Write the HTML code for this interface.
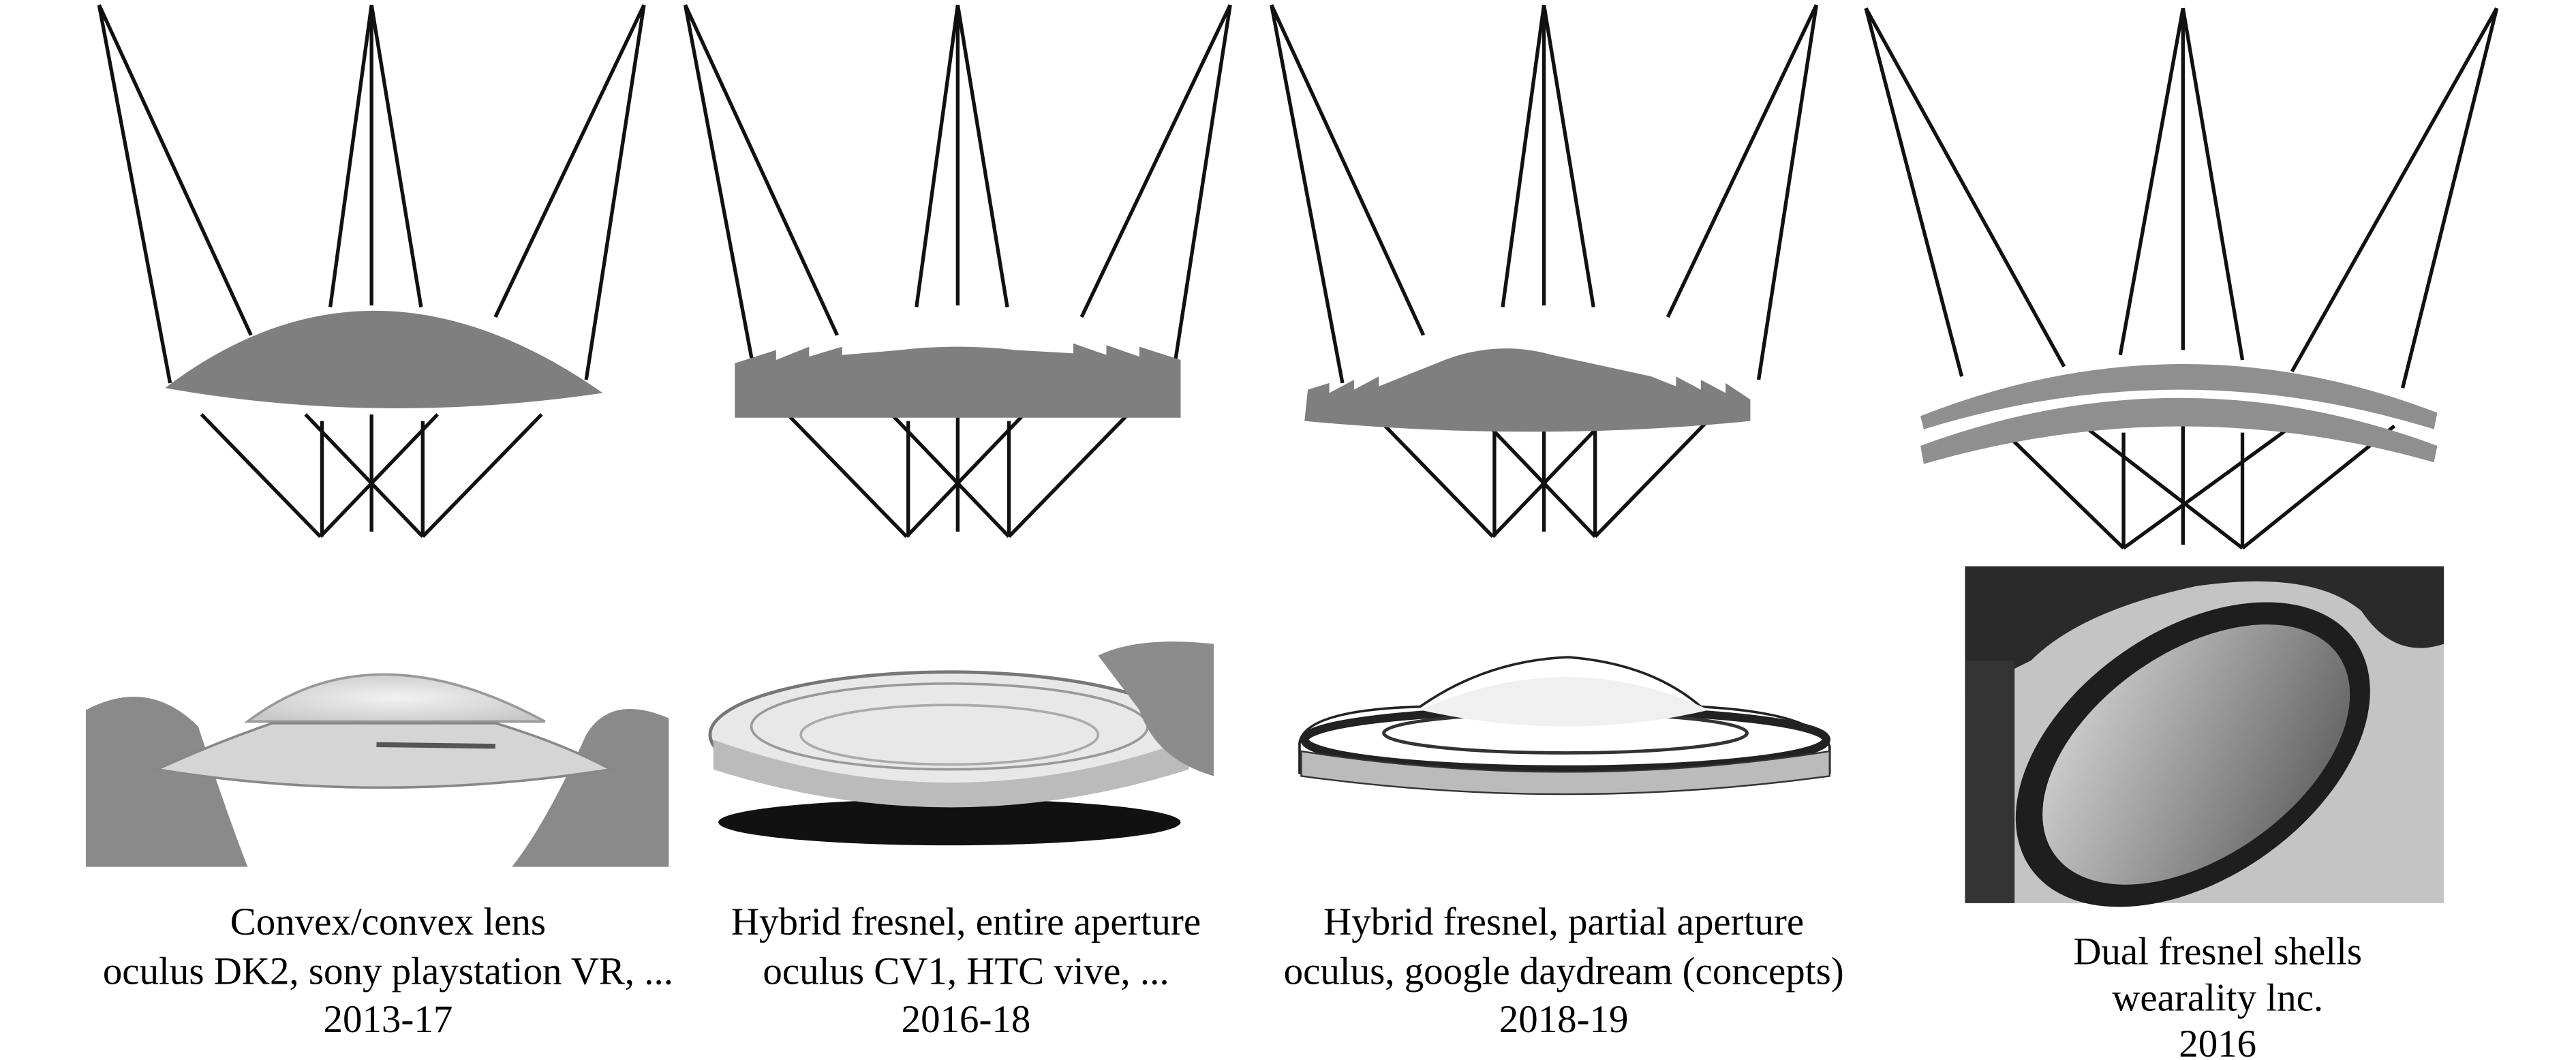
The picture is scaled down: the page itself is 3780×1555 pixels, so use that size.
<!DOCTYPE html>
<html><head><meta charset="utf-8"><style>
html,body{margin:0;padding:0;background:#fff;}
svg{display:block;}
text{font-family:"Liberation Serif",serif;font-size:23.5px;fill:#000;}
</style></head><body>
<svg width="3780" height="1555" viewBox="0 0 1560 642" preserveAspectRatio="none" xmlns="http://www.w3.org/2000/svg">
<defs>
<g id="rays1" stroke="#111" stroke-width="2.2" fill="none">
<line x1="60" y1="3" x2="103" y2="232"/><line x1="60" y1="3" x2="152" y2="203"/>
<line x1="225" y1="3" x2="200" y2="186"/><line x1="225" y1="3" x2="225" y2="185"/><line x1="225" y1="3" x2="255" y2="186"/>
<line x1="390" y1="3" x2="300" y2="192"/><line x1="390" y1="3" x2="355" y2="230"/>
<line x1="122" y1="251" x2="194" y2="325"/><line x1="195" y1="255" x2="195" y2="325"/>
<line x1="185" y1="251" x2="256" y2="325"/><line x1="265" y1="251" x2="194" y2="325"/>
<line x1="225" y1="251" x2="225" y2="322"/><line x1="256" y1="255" x2="256" y2="325"/>
<line x1="328" y1="251" x2="256" y2="325"/>
</g>
<radialGradient id="g1" cx="50%" cy="50%" r="60%"><stop offset="0" stop-color="#f2f2f2"/><stop offset="1" stop-color="#c8c8c8"/></radialGradient>
<linearGradient id="g4" x1="0" y1="0" x2="1" y2="1"><stop offset="0" stop-color="#ddd"/><stop offset="0.5" stop-color="#999"/><stop offset="1" stop-color="#555"/></linearGradient>
</defs>

<!-- Panel 1 -->
<use href="#rays1"/>
<path d="M100,235 Q225,140 365,238 Q230,258 100,235 Z" fill="#7f7f7f"/>
<rect x="52" y="408" width="353" height="117" fill="#fff"/>
<path d="M52,430 Q90,410 120,440 Q140,500 150,525 L52,525 Z" fill="#8a8a8a"/>
<path d="M405,435 Q370,420 355,445 Q330,500 310,525 L405,525 Z" fill="#8a8a8a"/>
<path d="M150,437 Q225,380 330,437 Z" fill="url(#g1)" stroke="#999" stroke-width="1.5"/>
<path d="M95,466 Q130,450 165,438 L300,438 Q340,450 370,466 Q230,488 95,466 Z" fill="#d5d5d5" stroke="#888" stroke-width="1.5"/>
<line x1="228" y1="451" x2="300" y2="452" stroke="#555" stroke-width="3"/>

<!-- Panel 2 -->
<use href="#rays1" transform="translate(355,0)"/>
<path d="M445,253 L445,220 L470,212 L470,218 L490,210 L490,216 L510,210 L510,215 L545,212 Q580,208 615,212 L650,214 L650,208 L670,215 L670,209 L690,216 L690,210 L715,218 L715,253 Z" fill="#7f7f7f"/>
<rect x="432" y="387" width="303" height="118" fill="#fff"/>
<ellipse cx="575" cy="498" rx="140" ry="14" fill="#111"/>
<ellipse cx="575" cy="445" rx="145" ry="38" fill="#e8e8e8" stroke="#777" stroke-width="2"/>
<ellipse cx="575" cy="440" rx="120" ry="26" fill="none" stroke="#999" stroke-width="1.5"/>
<ellipse cx="575" cy="445" rx="90" ry="18" fill="none" stroke="#aaa" stroke-width="1.5"/>
<path d="M432,448 Q575,500 720,448 L720,466 Q575,512 432,466 Z" fill="#bbb"/>
<path d="M665,397 Q690,385 735,390 L735,470 Q700,460 690,430 Z" fill="#8c8c8c"/>

<!-- Panel 3 -->
<use href="#rays1" transform="translate(710,0)"/>
<path d="M790,255 L792,236 L805,232 L805,238 L820,230 L820,236 L835,228 L835,234 L870,220 Q905,205 940,215 L1000,228 L1015,234 L1015,228 L1030,236 L1030,230 L1045,238 L1045,232 L1060,242 L1060,255 Q930,268 790,255 Z" fill="#7f7f7f"/>
<path d="M787,450 Q790,430 860,428 Q900,400 950,398 Q1000,402 1030,428 Q1100,432 1108,452 L1108,468 Q950,490 787,468 Z" fill="#fff" stroke="#222" stroke-width="1.5"/>
<ellipse cx="948" cy="448" rx="158" ry="18" fill="none" stroke="#222" stroke-width="5"/>
<ellipse cx="948" cy="444" rx="110" ry="12" fill="none" stroke="#333" stroke-width="2"/>
<path d="M860,430 Q950,390 1035,430 Q950,450 860,430 Z" fill="#f0f0f0"/>
<path d="M788,455 L788,470 Q948,492 1108,470 L1108,455 Q948,480 788,455 Z" fill="#bbb" stroke="#333" stroke-width="1"/>

<!-- Panel 4 -->
<g stroke="#111" stroke-width="2.2" fill="none">
<line x1="1130" y1="5" x2="1188" y2="228"/><line x1="1130" y1="5" x2="1250" y2="222"/>
<line x1="1322" y1="5" x2="1284" y2="215"/><line x1="1322" y1="5" x2="1322" y2="212"/><line x1="1322" y1="5" x2="1358" y2="218"/>
<line x1="1512" y1="5" x2="1388" y2="225"/><line x1="1512" y1="5" x2="1455" y2="235"/>
<line x1="1210" y1="258" x2="1286" y2="332"/><line x1="1286" y1="262" x2="1286" y2="332"/>
<line x1="1262" y1="258" x2="1358" y2="332"/><line x1="1388" y1="258" x2="1286" y2="332"/>
<line x1="1322" y1="258" x2="1322" y2="330"/><line x1="1358" y1="262" x2="1358" y2="332"/>
<line x1="1450" y1="258" x2="1358" y2="332"/>
</g>
<path d="M1163,252 Q1320,190 1476,250 L1474,260 Q1320,212 1165,260 Z" fill="#8f8f8f"/>
<path d="M1163,270 Q1320,212 1476,270 L1474,280 Q1320,236 1165,281 Z" fill="#8f8f8f"/>
<rect x="1190" y="343" width="290" height="204" fill="#c4c4c4"/>
<path d="M1190,343 L1480,343 L1480,390 Q1450,400 1430,370 Q1400,345 1330,355 Q1260,370 1230,400 L1190,420 Z" fill="#2a2a2a"/>
<ellipse cx="1328" cy="457" rx="120" ry="75" transform="rotate(-35 1328 457)" fill="#1e1e1e"/>
<ellipse cx="1330" cy="457" rx="105" ry="62" transform="rotate(-35 1330 457)" fill="url(#g4)"/>
<rect x="1190" y="400" width="30" height="147" fill="#333"/>

<!-- Captions -->
<g text-anchor="middle">
<text x="235" y="566">Convex/convex lens</text>
<text x="235" y="596">oculus DK2, sony playstation VR, ...</text>
<text x="235" y="625">2013-17</text>
<text x="585" y="566">Hybrid fresnel, entire aperture</text>
<text x="585" y="596">oculus CV1, HTC vive, ...</text>
<text x="585" y="625">2016-18</text>
<text x="947" y="566">Hybrid fresnel, partial aperture</text>
<text x="947" y="596">oculus, google daydream (concepts)</text>
<text x="947" y="625">2018-19</text>
<text x="1343" y="584">Dual fresnel shells</text>
<text x="1343" y="612">wearality lnc.</text>
<text x="1343" y="640">2016</text>
</g>
</svg>
</body></html>
